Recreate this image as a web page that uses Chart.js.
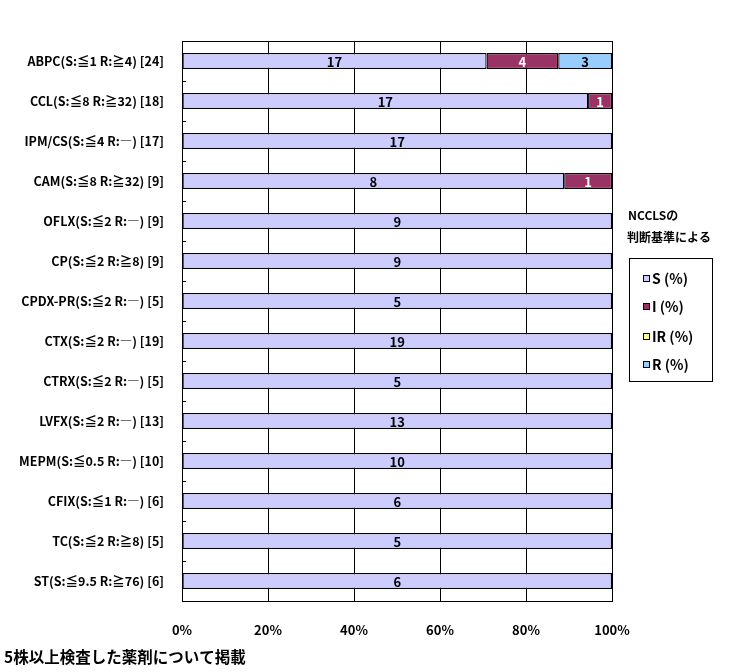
<!DOCTYPE html>
<html>
<head>
<meta charset="utf-8">
<script src="https://cdn.jsdelivr.net/npm/chart.js@4.4.0/dist/chart.umd.min.js"></script>
<style>
html, body { margin: 0; padding: 0; background: #fff; }
#wrap { width: 738px; height: 672px; }
</style>
</head>
<body>
<div id="wrap"><canvas id="ncclsChart"></canvas></div>
<script>
var drugLabels = [
  "ABPC(S:≦1 R:≧4) [24]",
  "CCL(S:≦8 R:≧32) [18]",
  "IPM/CS(S:≦4 R:―) [17]",
  "CAM(S:≦8 R:≧32) [9]",
  "OFLX(S:≦2 R:―) [9]",
  "CP(S:≦2 R:≧8) [9]",
  "CPDX-PR(S:≦2 R:―) [5]",
  "CTX(S:≦2 R:―) [19]",
  "CTRX(S:≦2 R:―) [5]",
  "LVFX(S:≦2 R:―) [13]",
  "MEPM(S:≦0.5 R:―) [10]",
  "CFIX(S:≦1 R:―) [6]",
  "TC(S:≦2 R:≧8) [5]",
  "ST(S:≦9.5 R:≧76) [6]"
];
var totals   = [24, 18, 17, 9, 9, 9, 5, 19, 5, 13, 10, 6, 5, 6];
var sCounts  = [17, 17, 17, 8, 9, 9, 5, 19, 5, 13, 10, 6, 5, 6];
var iCounts  = [4, 1, 0, 1, 0, 0, 0, 0, 0, 0, 0, 0, 0, 0];
var irCounts = [0, 0, 0, 0, 0, 0, 0, 0, 0, 0, 0, 0, 0, 0];
var rCounts  = [3, 0, 0, 0, 0, 0, 0, 0, 0, 0, 0, 0, 0, 0];
var xTickLabels = ["0%", "20%", "40%", "60%", "80%", "100%"];

var FONT = "'Noto Sans CJK JP', 'Noto Sans', sans-serif";

function toPercent(counts) {
  return counts.map(function (c, i) { return c / totals[i] * 100; });
}

function makeSet(label, counts, color, textColor) {
  return {
    label: label,
    data: toPercent(counts),
    counts: counts,
    textColor: textColor,
    backgroundColor: color,
    borderColor: "#000",
    borderWidth: 1.3,
    borderSkipped: false,
    barPercentage: 0.4,
    categoryPercentage: 1.0
  };
}

// count labels in the middle of each segment, plot frame, inner ticks
var barText = {
  id: "barText",
  afterDatasetsDraw: function (chart) {
    var ctx = chart.ctx, a = chart.chartArea;
    ctx.save();
    ctx.strokeStyle = "#000";
    ctx.lineWidth = 1;
    ctx.strokeRect(Math.round(a.left) + 0.5, Math.round(a.top) + 0.5,
      Math.round(a.right - a.left), Math.round(a.bottom - a.top));
    var step = (a.bottom - a.top) / drugLabels.length;
    ctx.beginPath();
    for (var k = 1; k < drugLabels.length; k++) {
      var y = Math.round(a.top + k * step) + 0.5;
      ctx.moveTo(a.left, y);
      ctx.lineTo(a.left + 4, y);
    }
    ctx.stroke();

    ctx.font = "bold 13px " + FONT;
    ctx.textAlign = "center";
    ctx.textBaseline = "middle";
    chart.data.datasets.forEach(function (ds, di) {
      var meta = chart.getDatasetMeta(di);
      meta.data.forEach(function (bar, i) {
        if (!ds.counts[i]) return;
        ctx.fillStyle = ds.textColor;
        ctx.fillText(String(ds.counts[i]), (bar.x + bar.base) / 2, bar.y + 1);
      });
    });
    ctx.restore();
  },
  afterDraw: function (chart) {
    var ctx = chart.ctx;
    ctx.save();
    ctx.fillStyle = "#000";
    ctx.textBaseline = "middle";
    ctx.textAlign = "left";
    ctx.font = "bold 12px " + FONT;
    ctx.fillText("NCCLSの", 628, 215);
    ctx.fillText("判断基準による", 627, 237);

    ctx.strokeStyle = "#000";
    ctx.lineWidth = 1;
    ctx.strokeRect(629.5, 258.5, 83, 123);
    var rows = [279, 307, 337, 365];
    ctx.font = "bold 14px " + FONT;
    chart.data.datasets.forEach(function (ds, di) {
      var y = rows[di];
      ctx.fillStyle = ds.backgroundColor;
      ctx.fillRect(643, y - 4, 7, 7);
      ctx.strokeRect(643.5, y - 3.5, 6, 6);
      ctx.fillStyle = "#000";
      ctx.fillText(ds.label, 652, y);
    });

    ctx.font = "bold 15.5px " + FONT;
    ctx.fillText("5株以上検査した薬剤について掲載", 4, 657);
    ctx.restore();
  }
};

new Chart("ncclsChart", {
  type: "bar",
  data: {
    labels: drugLabels,
    datasets: [
      makeSet("S (%)", sCounts, "#CCCCFF", "#000"),
      makeSet("I (%)", iCounts, "#993366", "#fff"),
      makeSet("IR (%)", irCounts, "#FFFF99", "#000"),
      makeSet("R (%)", rCounts, "#99CCFF", "#000")
    ]
  },
  options: {
    indexAxis: "y",
    responsive: true,
    maintainAspectRatio: false,
    animation: false,
    layout: { padding: { top: 41, right: 126, bottom: 0, left: 0 } },
    plugins: {
      legend: { display: false },
      tooltip: { enabled: false }
    },
    scales: {
      x: {
        stacked: true,
        min: 0,
        max: 100,
        ticks: {
          stepSize: 20,
          padding: 21,
          color: "#000",
          font: { family: FONT, size: 13, weight: "bold" },
          callback: function (v, i) { return xTickLabels[i]; }
        },
        grid: { color: "#000", lineWidth: 1, drawTicks: false },
        border: { color: "#000" },
        afterFit: function (scale) { scale.height = 71; }
      },
      y: {
        stacked: true,
        ticks: {
          padding: 10,
          color: "#000",
          font: { family: FONT, size: 12.5, weight: "bold" }
        },
        grid: { display: false },
        border: { color: "#000" },
        afterFit: function (scale) { scale.width = 182; }
      }
    }
  },
  plugins: [barText]
});
</script>
</body>
</html>
